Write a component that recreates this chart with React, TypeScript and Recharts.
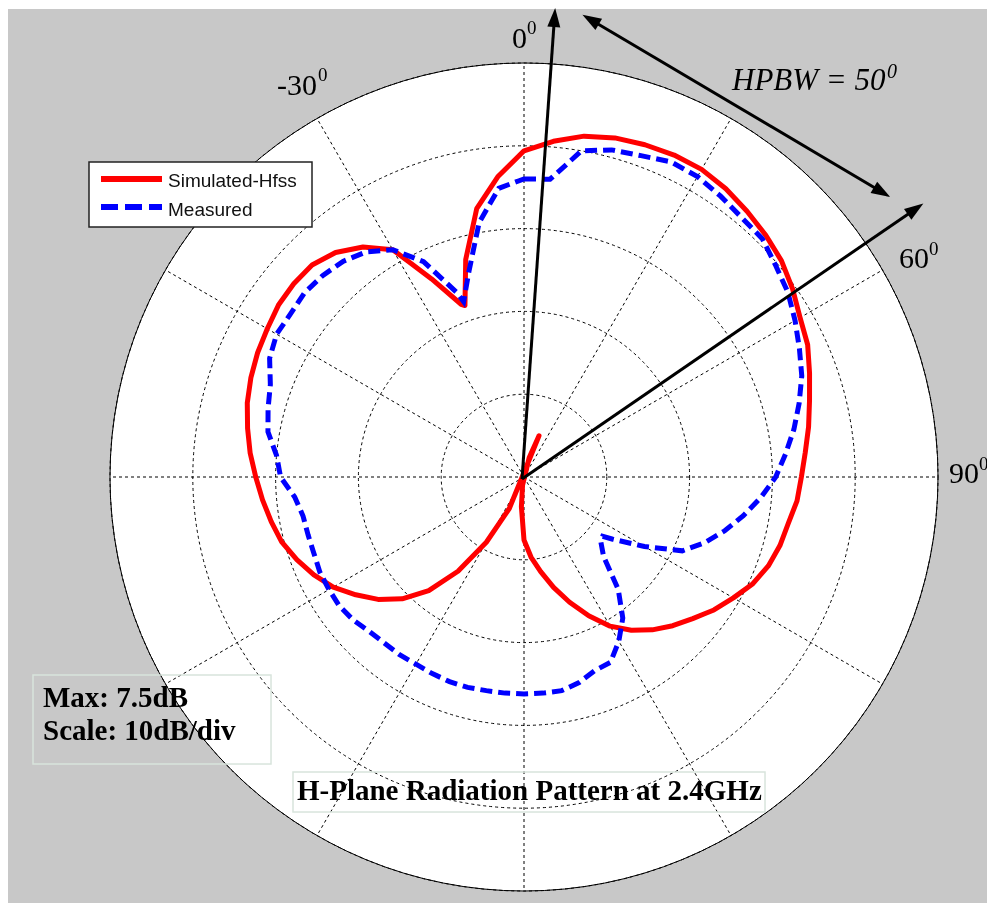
import React from 'react';
import { RadarChart, Radar, PolarGrid, PolarAngleAxis, PolarRadiusAxis } from 'recharts';

// Angles in degrees, 0 at top, clockwise (−30° = 330°)
const angles = [
  0, 5, 10, 15, 20, 25, 30, 35, 40, 45, 50, 55, 60, 65, 70, 75, 80, 85, 90, 95,
  100, 105, 110, 115, 120, 125, 127, 130, 135, 140, 145, 150, 155, 160, 165, 170,
  175, 180, 185, 190, 195, 200, 205, 210, 215, 220, 225, 230, 235, 240, 245, 250,
  255, 260, 265, 270, 275, 280, 285, 290, 295, 300, 305, 310, 315, 320, 325, 330,
  335, 340, 341, 345, 350, 355,
];

// Simulated-Hfss (dB)
const simulated = [
  -0.6, 0.7, 1.8, 2.4, 2.7, 2.9, 2.9, 2.5, 1.9, 1.3, 0.6, -0.4, -1.5, -2.2, -3.3, -4.3, -5.1, -5.9, -6.5, -6.9,
  -7.6, -8.0, -8.6, -9.5, -10.8, -12.0, -12.6, -13.4, -14.6, -15.9, -17.4, -19.2, -21.5, -23.9, -26.2, -28.4,
  -30.3, -32.4, -36.4, -39.0, -42.4, -45.3, -35.8, -30.9, -26.1, -22.1, -19.2, -17.0, -15.2, -13.4, -12.0, -10.8,
  -9.7, -9.0, -8.3, -7.6, -6.8, -6.1, -5.4, -4.9, -4.5, -4.2, -3.8, -3.7, -3.8, -4.6, -6.1, -8.3,
  -13.6, -17.8, -18.1, -12.8, -7.1, -3.6,
];

// Measured (dB)
const measured = [
  -4.0, -3.9, 0.0, 0.9, 1.3, 2.0, 1.9, 1.4, 0.9, 0.7, -0.3, -1.1, -2.2, -3.3, -4.3, -5.6, -6.9, -8.3, -9.6, -11.3,
  -13.1, -14.9, -16.8, -18.9, -23.2, -26.9, -28.1, -27.9, -26.4, -22.3, -19.2, -17.1, -15.3, -15.1, -14.3, -13.8,
  -13.8, -13.8, -13.8, -13.8, -13.7, -13.7, -13.8, -13.9, -13.8, -13.8, -13.6, -13.1, -12.8, -12.8, -12.8, -13.0,
  -13.0, -12.9, -12.2, -10.6, -10.0, -8.6, -8.0, -7.4, -6.1, -5.5, -5.6, -5.4, -5.6, -6.0, -6.8, -8.3,
  -11.3, -16.3, -17.6, -14.3, -8.8, -5.0,
];

const angleTicks = [0, 30, 60, 90, 120, 150, 180, 210, 240, 270, 300, 330];
const radiusTicks = [-30, -20, -10, 0, 10];
const radiusDomain: [number, number] = [-40, 10];

// Angle labels shown on the plot
const angleLabels = [
  { text: '0', x: 504, y: 39, sx: 519, sy: 25 },
  { text: '-30', x: 269, y: 86, sx: 310, sy: 72 },
  { text: '60', x: 891, y: 259, sx: 921, sy: 246 },
  { text: '90', x: 941, y: 474, sx: 971, sy: 461 },
];

// HPBW annotation arrows (polar: angle in degrees, radius in px)
const beamArrows = [
  { angle: 3.8, length: 470 },
  { angle: 55.6, length: 484 },
];
const hpbwArrow = { from: { angle: 7.2, r: 466 }, to: { angle: 52.6, r: 461 } };

const data = angles.map((a, i) => ({ angle: a, simulated: simulated[i], measured: measured[i] }));

const W = 979;
const H = 894;
const CX = 516;
const CY = 468;
const R = 414;

const toXY = (angleDeg: number, r: number) => {
  const t = (angleDeg * Math.PI) / 180;
  return { x: CX + r * Math.sin(t), y: CY - r * Math.cos(t) };
};

function Arrow({ x1, y1, x2, y2, both }: { x1: number; y1: number; x2: number; y2: number; both?: boolean }) {
  const dx = x2 - x1;
  const dy = y2 - y1;
  const len = Math.hypot(dx, dy);
  const ux = dx / len;
  const uy = dy / len;
  const nx = -uy;
  const ny = ux;
  const L = 19;
  const Wd = 13;
  const head = (tx: number, ty: number, sx: number, sy: number) => {
    const bx = tx - sx * L;
    const by = ty - sy * L;
    return `${tx},${ty} ${bx + (nx * Wd) / 2},${by + (ny * Wd) / 2} ${bx - (nx * Wd) / 2},${by - (ny * Wd) / 2}`;
  };
  const sx = both ? x1 + ux * L * 0.8 : x1;
  const sy = both ? y1 + uy * L * 0.8 : y1;
  const ex = x2 - ux * L * 0.8;
  const ey = y2 - uy * L * 0.8;
  return (
    <g>
      <line x1={sx} y1={sy} x2={ex} y2={ey} stroke="#000" strokeWidth={3} />
      <polygon points={head(x2, y2, ux, uy)} fill="#000" />
      {both && <polygon points={head(x1, y1, -ux, -uy)} fill="#000" />}
    </g>
  );
}

const serif = '"Liberation Serif", "DejaVu Serif", "Times New Roman", serif';
const sans = '"Liberation Sans", Arial, sans-serif';

export default function App() {
  const p1 = toXY(hpbwArrow.from.angle, hpbwArrow.from.r);
  const p2 = toXY(hpbwArrow.to.angle, hpbwArrow.to.r);
  return (
    <div style={{ position: 'fixed', left: 8, top: 9, width: W, height: H, background: '#c8c8c8' }}>
      <div
        style={{
          position: 'absolute',
          left: CX - R,
          top: CY - R,
          width: 2 * R,
          height: 2 * R,
          borderRadius: '50%',
          background: '#fff',
        }}
      />
      <div style={{ position: 'absolute', left: 0, top: 0 }}>
        <RadarChart
          width={W}
          height={H}
          data={data}
          cx={CX}
          cy={CY}
          outerRadius={R}
          innerRadius={0}
          startAngle={90}
          endAngle={-270}
          margin={{ top: 0, right: 0, bottom: 0, left: 0 }}
        >
          <PolarGrid gridType="circle" stroke="#000" strokeDasharray="3 3" strokeWidth={1} />
          <PolarAngleAxis
            dataKey="angle"
            type="number"
            domain={[0, 360]}
            ticks={angleTicks}
            tick={false}
            tickLine={false}
            axisLineType="circle"
            axisLine={{ stroke: '#000', strokeWidth: 1 }}
          />
          <PolarRadiusAxis
            type="number"
            domain={radiusDomain}
            ticks={radiusTicks}
            allowDataOverflow
            tick={false}
            axisLine={false}
          />
          <Radar
            dataKey="simulated"
            stroke="#ff0000"
            strokeWidth={5}
            strokeLinejoin="round"
            fill="none"
            fillOpacity={0}
            dot={false}
            isAnimationActive={false}
          />
          <Radar
            dataKey="measured"
            stroke="#0000ff"
            strokeWidth={5}
            strokeDasharray="12 6"
            fill="none"
            fillOpacity={0}
            dot={false}
            isAnimationActive={false}
          />
        </RadarChart>
      </div>
      <svg
        width={W}
        height={H}
        style={{ position: 'absolute', left: 0, top: 0, overflow: 'visible', pointerEvents: 'none' }}
      >
        {beamArrows.map((a, i) => {
          const t = toXY(a.angle, a.length);
          return <Arrow key={i} x1={CX - 2} x2={t.x} y1={CY + 2} y2={t.y} />;
        })}
        <Arrow x1={p1.x} y1={p1.y} x2={p2.x} y2={p2.y} both />

        {angleLabels.map((l) => (
          <g key={l.text} fontFamily={serif} fill="#000">
            <text x={l.x} y={l.y} fontSize={30}>
              {l.text}
            </text>
            <text x={l.sx} y={l.sy} fontSize={19}>
              0
            </text>
          </g>
        ))}
        <text x={724} y={81} fontFamily={serif} fontStyle="italic" fontSize={31} fill="#000">
          HPBW = 50
        </text>
        <text x={879} y={69} fontFamily={serif} fontStyle="italic" fontSize={20} fill="#000">
          0
        </text>

        {/* legend */}
        <rect x={81} y={153} width={223} height={65} fill="#fff" stroke="#222" strokeWidth={1.5} />
        <line x1={93} x2={154} y1={170} y2={170} stroke="#ff0000" strokeWidth={6} />
        <line x1={93} x2={154} y1={198} y2={198} stroke="#0000ff" strokeWidth={6} strokeDasharray="17 7" />
        <text x={160} y={178} fontFamily={sans} fontSize={19} fill="#111">
          Simulated-Hfss
        </text>
        <text x={160} y={207} fontFamily={sans} fontSize={19} fill="#111">
          Measured
        </text>

        {/* info box */}
        <rect x={25} y={666} width={238} height={89} fill="none" stroke="#d8e4dc" strokeWidth={1.5} />
        <text x={35} y={698} fontFamily={serif} fontWeight="bold" fontSize={29} fill="#000">
          Max: 7.5dB
        </text>
        <text x={35} y={731} fontFamily={serif} fontWeight="bold" fontSize={29} fill="#000">
          Scale: 10dB/div
        </text>

        {/* title */}
        <rect x={285} y={763} width={472} height={40} fill="none" stroke="#d8e4dc" strokeWidth={1.5} />
        <text x={289} y={791} fontFamily={serif} fontWeight="bold" fontSize={29} fill="#000">
          H-Plane Radiation Pattern at 2.4GHz
        </text>
      </svg>
    </div>
  );
}
